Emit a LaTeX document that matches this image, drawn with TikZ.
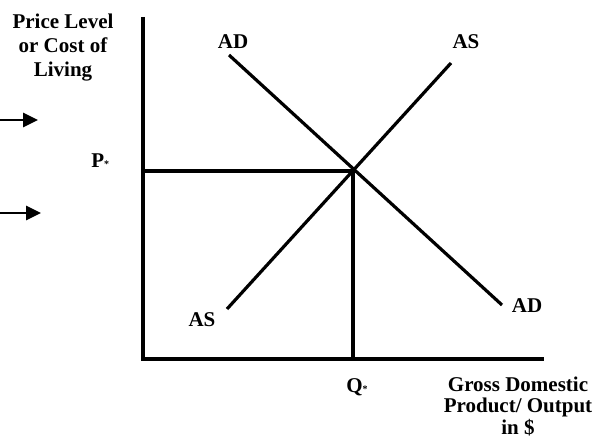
\documentclass[tikz,border=0pt]{standalone}
\usepackage{fontspec}
\setmainfont{Liberation Serif}
\usetikzlibrary{arrows.meta}
\begin{document}
\begin{tikzpicture}[x=0.5pt,y=-0.5pt,
  lbl/.style={font=\fontsize{10.5}{11.5}\selectfont\bfseries,inner sep=0pt,anchor=base},
  axis/.style={line width=2pt},
  curve/.style={line width=1.6pt},
  ptr/.style={line width=1.4pt,-{Triangle[length=7.5pt,width=7pt]}}]
\useasboundingbox (0,0) rectangle (594,444);
% axes
\coordinate (ytop) at (143,17);
\coordinate (orig) at (143,359);
\coordinate (xend) at (544,359);
\draw[axis] (ytop) -- (orig) -- (xend);
% curves
\coordinate (ad1) at (229,55);
\coordinate (ad2) at (502,305);
\coordinate (as1) at (227,309);
\coordinate (as2) at (451,63);
\draw[curve] (ad1) -- (ad2);
\draw[curve] (as1) -- (as2);
% equilibrium
\coordinate (eq) at (353,171);
\coordinate (peq) at (143,171);
\coordinate (qeq) at (353,359);
\draw[curve] (peq) -- (eq) -- (qeq);
% arrows
\coordinate (a1s) at (0,120);
\coordinate (a1e) at (38,120);
\coordinate (a2s) at (0,213);
\coordinate (a2e) at (41,213);
\draw[ptr] (a1s) -- (a1e);
\draw[ptr] (a2s) -- (a2e);
% labels
\node[lbl,align=center,font=\fontsize{10.5}{11.8}\selectfont\bfseries] (ylab) at (63,76) {Price Level\\or Cost of\\Living};
\node[lbl,align=center,font=\fontsize{10.5}{10.6}\selectfont\bfseries] (xlab) at (518,434) {Gross Domestic\\Product/ Output\\in \$};
\node[lbl] (adtop) at (233,49) {AD};
\node[lbl] (astop) at (466,49) {AS};
\node[lbl] (asbot) at (202,326) {AS};
\node[lbl] (adbot) at (527,312) {AD};
\node[lbl,anchor=base west] (pstar) at (91,168) {P{\fontsize{5}{5}\selectfont *}};
\node[lbl,anchor=base west] (qstar) at (346,392) {Q{\fontsize{5}{5}\selectfont *}};
\end{tikzpicture}
\end{document}
